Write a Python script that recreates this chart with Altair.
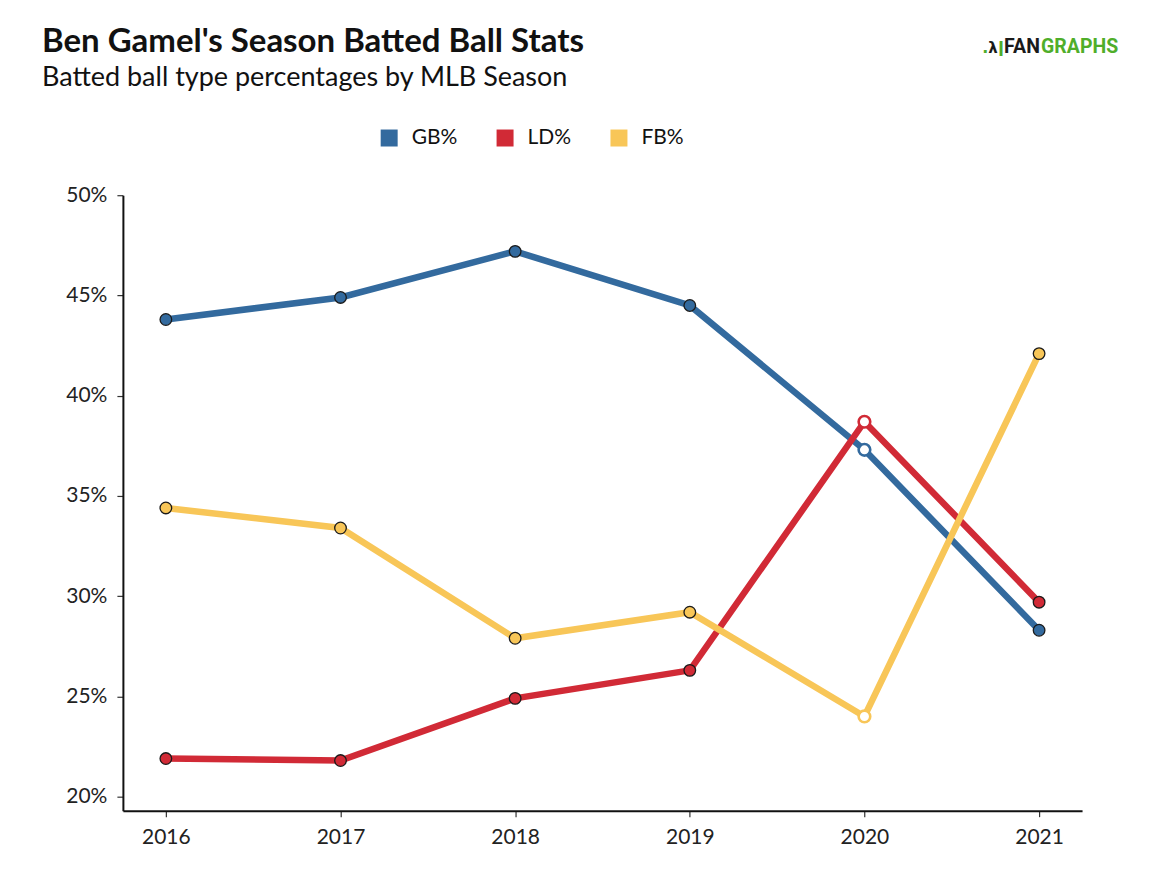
import altair as alt
import pandas as pd

years = [2016, 2017, 2018, 2019, 2020, 2021]
gb = [0.438, 0.449, 0.472, 0.445, 0.373, 0.283]
ld = [0.219, 0.218, 0.249, 0.263, 0.387, 0.297]
fb = [0.344, 0.334, 0.279, 0.292, 0.240, 0.421]
types = ["GB%", "LD%", "FB%"]
colors = ["#336a9e", "#d12a36", "#f8c658"]
y_ticks = [0.20, 0.25, 0.30, 0.35, 0.40, 0.45, 0.50]
highlight_year = 2020
title_text = "Ben Gamel's Season Batted Ball Stats"
subtitle_text = "Batted ball type percentages by MLB Season"

rows = []
for t, vals in zip(types, [gb, ld, fb]):
    for yr, v in zip(years, vals):
        rows.append({"year": yr, "type": t, "value": v})
df = pd.DataFrame(rows)

x_enc = alt.X("year:Q", scale=alt.Scale(domain=[2015.754, 2021.246], nice=False, zero=False),
              axis=alt.Axis(values=years, format="d", title=None, labelPadding=10,
                            labelFontSize=21, labelFont="Lato"))
y_enc = alt.Y("value:Q", scale=alt.Scale(domain=[0.193, 0.50], nice=False, zero=False),
              axis=alt.Axis(values=y_ticks, format=".0%", title=None, labelPadding=10,
                            labelFontSize=21, labelFont="Lato"))
cscale = alt.Scale(domain=types, range=colors)
leg = alt.Legend(title=None, orient="none", legendX=256, legendY=-68, direction="horizontal",
                 symbolType="square", symbolSize=289, symbolStrokeWidth=0, symbolOpacity=1,
                 labelFont="Lato", labelFontSize=21, labelColor="#111",
                 labelOffset=12, columnPadding=37)

base = alt.Chart(df)

pts = base.transform_filter(alt.datum.year != highlight_year).mark_point(
    shape="circle", filled=True, size=135, stroke="#1a1a1a", strokeWidth=1.3, opacity=1
).encode(
    x=x_enc, y=y_enc,
    color=alt.Color("type:N", scale=cscale, legend=leg),
)

lines = base.mark_line(strokeWidth=6.5).encode(
    x=x_enc, y=y_enc,
    color=alt.Color("type:N", scale=cscale, legend=leg),
    detail="type:N",
)

hl = base.transform_filter(alt.datum.year == highlight_year).mark_point(
    shape="circle", filled=False, size=135, fill="white", strokeWidth=2.6, opacity=1
).encode(
    x=x_enc, y=y_enc,
    color=alt.Color("type:N", scale=cscale, legend=leg),
)

txt_df = pd.DataFrame({"t": [title_text, subtitle_text, "FAN", "GRAPHS"]})

def txt(which, **kw):
    return alt.Chart(txt_df).transform_filter(alt.datum.t == which).mark_text(
        align="left", baseline="alphabetic", **kw)

title_m = txt(title_text, font="Lato", fontSize=33, fontWeight="bold", color="#111").encode(
    text="t:N", x=alt.value(-81), y=alt.value(-143))
sub_m = txt(subtitle_text, font="Lato", fontSize=27, color="#111").encode(
    text="t:N", x=alt.value(-81), y=alt.value(-109))
logo_fan = txt("FAN", font="Roboto", fontSize=19.5, fontWeight="bold", color="#1a1a1a").encode(
    text="t:N", x=alt.value(882), y=alt.value(-142))
logo_gr = txt("GRAPHS", font="Roboto", fontSize=19.5, fontWeight="bold", color="#4fae2a").encode(
    text="t:N", x=alt.value(919), y=alt.value(-142))
logo_dot = txt("FAN", font="DejaVu Sans", fontSize=16, fontWeight="bold", color="#4fae2a").encode(
    text=alt.value("."), x=alt.value(860), y=alt.value(-142))
logo_bat = txt("FAN", font="DejaVu Sans", fontSize=15, fontWeight="bold", color="#1a1a1a").encode(
    text=alt.value("λ"), x=alt.value(866), y=alt.value(-142))
logo_bar = txt("FAN", font="DejaVu Sans", fontSize=15, fontWeight="bold", color="#4fae2a").encode(
    text=alt.value("ǀ"), x=alt.value(876), y=alt.value(-142))

chart = alt.layer(lines, pts, hl, title_m, sub_m, logo_dot, logo_bat, logo_bar,
                  logo_fan, logo_gr).properties(
    width=960, height=616,
    autosize=alt.AutoSizeParams(type="none"),
    padding={"left": 115, "top": 187, "right": 60, "bottom": 50},
).configure_view(stroke=None).configure_axis(
    domainColor="#111", domainWidth=2, tickColor="#333", tickSize=6, tickWidth=1.2,
    labelColor="#222", grid=False,
)

chart.save("out.html", embed_options={"renderer": "svg", "actions": False})
